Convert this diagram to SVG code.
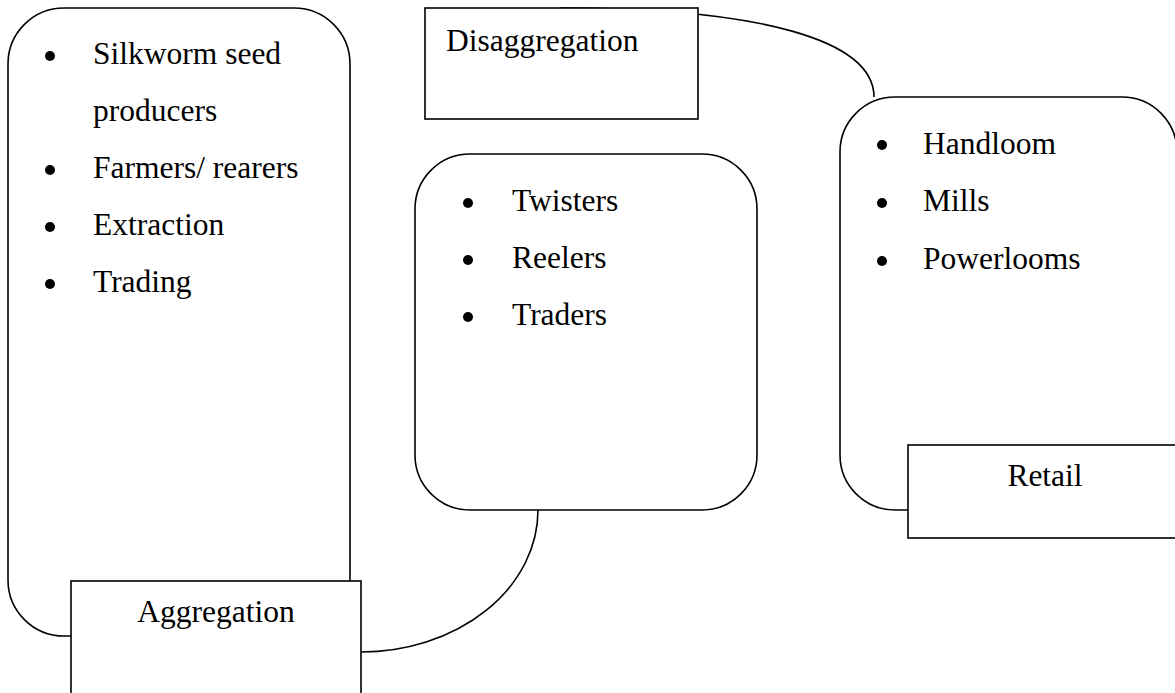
<svg xmlns="http://www.w3.org/2000/svg" width="1175" height="693" viewBox="0 0 1175 693">
<style>
.shape{fill:#fff;stroke:#000;stroke-width:1.6}
.conn{fill:none;stroke:#000;stroke-width:1.6}
.t{font-size:31.5px;fill:#000}
.b{fill:#000}
</style>
<rect width="1175" height="693" fill="#fff"/>
<g id="connectors">
<path class="conn" d="M560 8 C760 8 874 40 874 97"/>
<path class="conn" d="M538 510 A177 142 0 0 1 361 652"/>
</g>
<g font-family="'Liberation Serif', 'Times New Roman', Times, serif">
<g id="node-producers">
<rect class="shape" x="8" y="8" width="342" height="628" rx="56" ry="56"/>
<circle class="b" cx="50" cy="56" r="5"/>
<text class="t" x="93" y="64">Silkworm seed</text>
<text class="t" x="93" y="121">producers</text>
<circle class="b" cx="50" cy="170" r="5"/>
<text class="t" x="93" y="178">Farmers/ rearers</text>
<circle class="b" cx="50" cy="227" r="5"/>
<text class="t" x="93" y="235">Extraction</text>
<circle class="b" cx="50" cy="284" r="5"/>
<text class="t" x="93" y="292">Trading</text>
</g>
<g id="node-aggregation">
<rect class="shape" x="71" y="581" width="290" height="130"/>
<text class="t" x="216" y="622" text-anchor="middle">Aggregation</text>
</g>
<g id="node-disaggregation">
<rect class="shape" x="425" y="8" width="273" height="111"/>
<text class="t" x="446" y="51">Disaggregation</text>
</g>
<g id="node-processors">
<rect class="shape" x="415" y="154" width="342" height="356" rx="55" ry="55"/>
<circle class="b" cx="468" cy="203" r="5"/>
<text class="t" x="512" y="211">Twisters</text>
<circle class="b" cx="468" cy="260" r="5"/>
<text class="t" x="512" y="268">Reelers</text>
<circle class="b" cx="468" cy="317" r="5"/>
<text class="t" x="512" y="325">Traders</text>
</g>
<g id="node-weavers">
<rect class="shape" x="840" y="97" width="337" height="413" rx="55" ry="55"/>
<circle class="b" cx="882" cy="145" r="5"/>
<text class="t" x="923" y="154">Handloom</text>
<circle class="b" cx="882" cy="203" r="5"/>
<text class="t" x="923" y="211">Mills</text>
<circle class="b" cx="882" cy="261" r="5"/>
<text class="t" x="923" y="269">Powerlooms</text>
</g>
<g id="node-retail">
<rect class="shape" x="908" y="445" width="280" height="93"/>
<text class="t" x="1045" y="486" text-anchor="middle">Retail</text>
</g>
</g>
</svg>
